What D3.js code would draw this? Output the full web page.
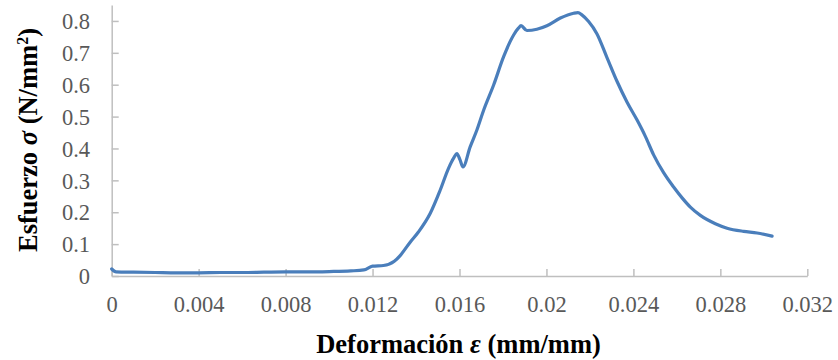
<!DOCTYPE html>
<html>
<head>
<meta charset="utf-8">
<script src="https://cdn.jsdelivr.net/npm/d3@7"></script>
<style>
  body { margin: 0; background: #fff; }
  svg { display: block; }
</style>
</head>
<body>
<div id="grafica"></div>
<script>
  // deformacion (mm/mm) y esfuerzo (N/mm2)
  const deformacion = [0, 0.0002, 0.001, 0.002, 0.003, 0.004, 0.005, 0.006, 0.007, 0.008, 0.009, 0.010, 0.011, 0.0116,
    0.0120, 0.0125, 0.0130, 0.01327, 0.01373, 0.01411, 0.01465, 0.01511, 0.01549, 0.01575, 0.01588, 0.01602, 0.01616,
    0.01649, 0.0168, 0.01711, 0.01757, 0.01803, 0.01849, 0.01872, 0.01883, 0.0191, 0.01956, 0.02002, 0.02064, 0.02125,
    0.02145, 0.02163, 0.02194, 0.02232, 0.02278, 0.02325, 0.02371, 0.02417, 0.02455, 0.02493, 0.02539, 0.02585, 0.02624,
    0.02662, 0.02708, 0.02777, 0.02831, 0.02907, 0.02969, 0.03038];
  const esfuerzo = [0.022, 0.013, 0.012, 0.011, 0.010, 0.010, 0.011, 0.011, 0.012, 0.013, 0.013, 0.014, 0.016, 0.019,
    0.031, 0.033, 0.046, 0.064, 0.106, 0.138, 0.196, 0.269, 0.337, 0.372, 0.384, 0.365, 0.342,
    0.405, 0.458, 0.520, 0.599, 0.688, 0.756, 0.778, 0.785, 0.770, 0.774, 0.785, 0.809, 0.824,
    0.826, 0.819, 0.798, 0.760, 0.686, 0.610, 0.545, 0.489, 0.438, 0.380, 0.324, 0.279, 0.245,
    0.216, 0.190, 0.164, 0.150, 0.140, 0.135, 0.125];

  const ticksX = [0, 0.004, 0.008, 0.012, 0.016, 0.02, 0.024, 0.028, 0.032];
  const ticksY = [0, 0.1, 0.2, 0.3, 0.4, 0.5, 0.6, 0.7, 0.8];

  const width = 838, height = 360;
  const margin = { left: 111.7, right: 838 - 807.3, top: 5, bottom: 360 - 276 };
  const fuente = '"Liberation Serif", "Times New Roman", serif';

  const svg = d3.select("#grafica")
    .append("svg")
    .attr("width", width)
    .attr("height", height)
    .style("font-family", fuente);

  const x = d3.scaleLinear().domain([0, 0.032]).range([margin.left, width - margin.right]);
  const y = d3.scaleLinear().domain([0, 0.85]).range([height - margin.bottom, margin.top]);

  const gris = "#bfbfbf";
  const grisTexto = "#595959";

  // Eje X (ticks hacia dentro)
  const ejeX = svg.append("g")
    .attr("transform", `translate(0,${y(0)})`)
    .call(d3.axisTop(x).tickValues(ticksX).tickSize(7).tickSizeOuter(0).tickFormat(d => String(+d.toFixed(3))));
  ejeX.attr("font-family", null);
  ejeX.select(".domain").attr("stroke", gris).attr("stroke-width", 1.5);
  ejeX.selectAll(".tick line").attr("stroke", gris).attr("stroke-width", 1.5);
  ejeX.selectAll(".tick text")
    .attr("y", 35.5)
    .attr("dy", null)
    .attr("fill", grisTexto)
    .style("font-family", fuente)
    .style("font-size", "22.5px");

  // Eje Y
  const ejeY = svg.append("g")
    .attr("transform", `translate(${x(0)},0)`)
    .call(d3.axisRight(y).tickValues(ticksY).tickSize(7).tickSizeOuter(0).tickFormat(d => String(+d.toFixed(1))));
  ejeY.attr("font-family", null);
  ejeY.select(".domain").attr("stroke", gris).attr("stroke-width", 1.5);
  ejeY.selectAll(".tick line").attr("stroke", gris).attr("stroke-width", 1.5);
  ejeY.selectAll(".tick text")
    .attr("x", -21.7)
    .attr("text-anchor", "end")
    .attr("dy", "0.34em")
    .attr("fill", grisTexto)
    .style("font-family", fuente)
    .style("font-size", "22.5px");

  // Curva
  const linea = d3.line()
    .x((d, i) => x(deformacion[i]))
    .y(d => y(d))
    .curve(d3.curveMonotoneX);

  svg.append("path")
    .datum(esfuerzo)
    .attr("d", linea)
    .attr("fill", "none")
    .attr("stroke", "#4a7ebb")
    .attr("stroke-width", 3.2)
    .attr("stroke-linejoin", "round")
    .attr("stroke-linecap", "round");

  // Titulos
  const tituloX = svg.append("text")
    .attr("x", 458.5)
    .attr("y", 352.7)
    .attr("text-anchor", "middle")
    .style("font-size", "26.5px")
    .style("font-weight", "bold");
  tituloX.append("tspan").text("Deformación ");
  tituloX.append("tspan").style("font-style", "italic").text("ε");
  tituloX.append("tspan").text(" (mm/mm)");

  const tituloY = svg.append("text")
    .attr("transform", "translate(37,140) rotate(-90)")
    .attr("text-anchor", "middle")
    .style("font-size", "26.5px")
    .style("font-weight", "bold");
  tituloY.append("tspan").text("Esfuerzo ");
  tituloY.append("tspan").style("font-style", "italic").text("σ");
  tituloY.append("tspan").text(" (N/mm");
  tituloY.append("tspan").attr("dy", -9).style("font-size", "16px").text("2");
  tituloY.append("tspan").attr("dy", 9).text(")");
</script>
</body>
</html>
